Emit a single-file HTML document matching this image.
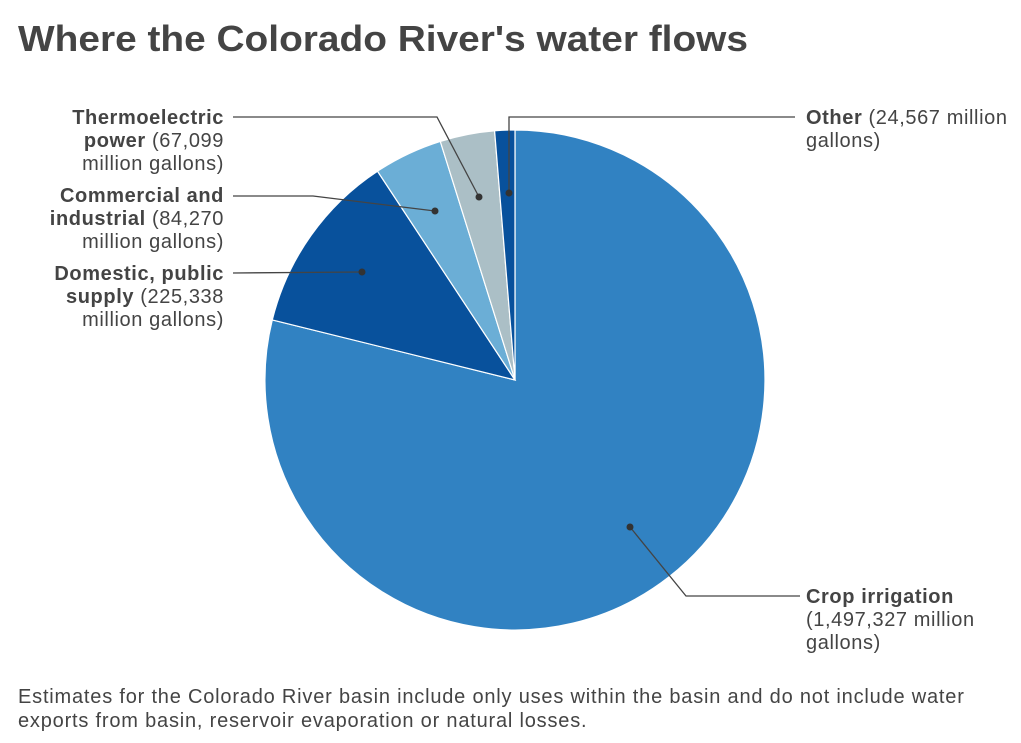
<!DOCTYPE html>
<html><head><meta charset="utf-8"><style>
body{margin:0;background:#fff;width:1021px;height:738px;overflow:hidden;font-family:"Liberation Sans",sans-serif;}
</style></head><body>
<svg width="1021" height="738" xmlns="http://www.w3.org/2000/svg" font-family="Liberation Sans, sans-serif">
<text x="18" y="51" font-size="36" font-weight="bold" fill="#444" textLength="730" lengthAdjust="spacingAndGlyphs">Where the Colorado River's water flows</text>
<g stroke="#fff" stroke-width="1.2">
<path d="M515,380 L515,130 A250,250 0 1 1 272.3,319.9 Z" fill="#3182c2"/>
<path d="M515,380 L272.3,319.9 A250,250 0 0 1 377.5,171.2 Z" fill="#08519c"/>
<path d="M515,380 L377.5,171.2 A250,250 0 0 1 440.3,141.4 Z" fill="#6baed6"/>
<path d="M515,380 L440.3,141.4 A250,250 0 0 1 494.6,130.8 Z" fill="#abbfc6"/>
<path d="M515,380 L494.6,130.8 A250,250 0 0 1 515,130 Z" fill="#08519c"/>
</g>
<g stroke="#444" stroke-width="1.3" fill="none">
<polyline points="233,117 437,117 479,197"/>
<polyline points="233,196 313,196 435,211"/>
<polyline points="233,273 362,272"/>
<polyline points="509,193 509,117 795,117"/>
<polyline points="630,527 686,596 800,596"/>
</g>
<g fill="#333">
<circle cx="479" cy="197" r="3.5"/><circle cx="435" cy="211" r="3.5"/><circle cx="362" cy="272" r="3.5"/><circle cx="509" cy="193" r="3.5"/><circle cx="630" cy="527" r="3.5"/>
</g>
<g font-size="20" fill="#444" text-anchor="end" letter-spacing="0.6">
<text x="224" y="124"><tspan font-weight="bold">Thermoelectric</tspan></text>
<text x="224" y="147"><tspan font-weight="bold">power</tspan> (67,099</text>
<text x="224" y="170">million gallons)</text>
<text x="224" y="202"><tspan font-weight="bold">Commercial and</tspan></text>
<text x="224" y="225"><tspan font-weight="bold">industrial</tspan> (84,270</text>
<text x="224" y="248">million gallons)</text>
<text x="224" y="280"><tspan font-weight="bold">Domestic, public</tspan></text>
<text x="224" y="303"><tspan font-weight="bold">supply</tspan> (225,338</text>
<text x="224" y="326">million gallons)</text>
</g>
<g font-size="20" fill="#444" letter-spacing="0.6">
<text x="806" y="124"><tspan font-weight="bold">Other</tspan> (24,567 million</text>
<text x="806" y="147">gallons)</text>
<text x="806" y="603" font-weight="bold">Crop irrigation</text>
<text x="806" y="626">(1,497,327 million</text>
<text x="806" y="649">gallons)</text>
</g>
<g font-size="20" fill="#444" letter-spacing="0.8">
<text x="18" y="703">Estimates for the Colorado River basin include only uses within the basin and do not include water</text>
<text x="18" y="727">exports from basin, reservoir evaporation or natural losses.</text>
</g>
</svg>
</body></html>
